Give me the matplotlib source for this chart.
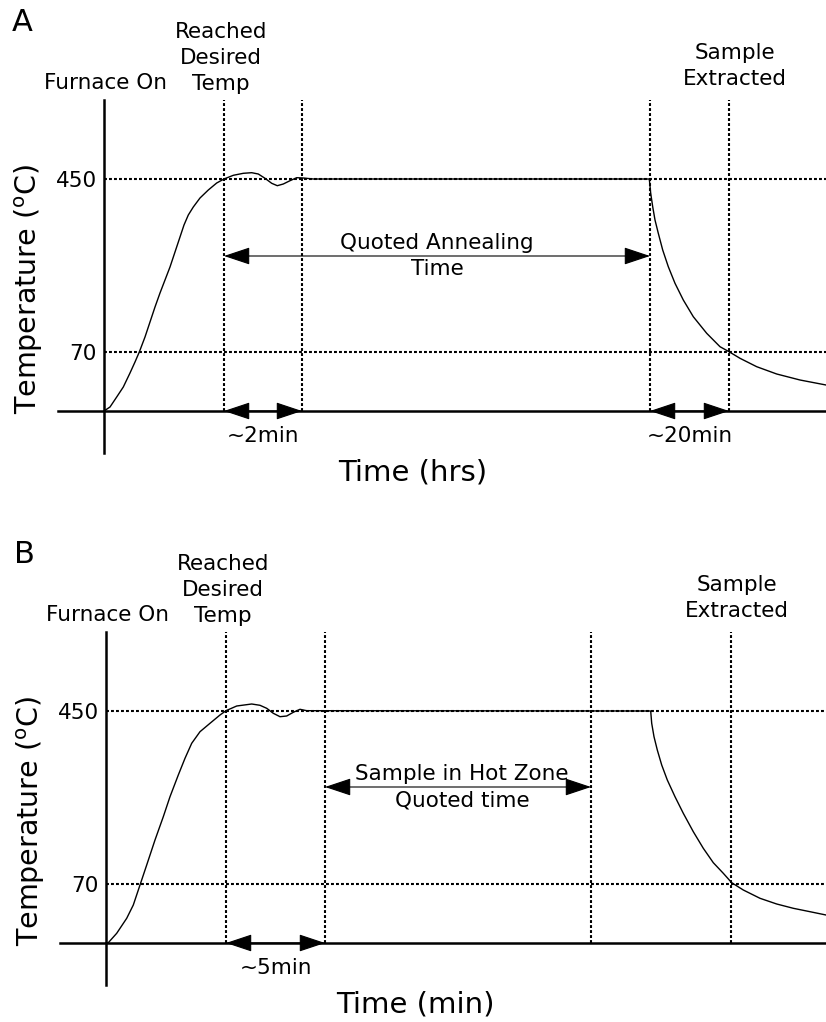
import matplotlib.pyplot as plt

# schematic units: x = time from furnace-on, y = height above room temperature
T_LOW = 59     # height of the 70 C level
T_HOLD = 232   # height of the 450 C level
tick_pos = [T_LOW, T_HOLD]
tick_labels = ["70", "450"]

# panel A (anneal time in hours)
t_a = [0, 6, 12.7, 19.3, 26, 31, 35.3, 41, 46, 51, 56, 61, 66, 71, 76, 80, 84.3, 89.3,
       96, 104.3, 112.7, 120, 129.3, 139.3, 147.7, 154.3, 161, 167.7, 173.3, 179.3, 186,
       192.7, 199.3, 209.3, 545.3, 546.7, 548.7, 551, 554.3, 558.7, 564.3, 571, 579.3,
       589.3, 602.7, 616, 625, 636, 652.7, 672.7, 696, 722]
temp_a = [0, 4, 14, 24, 38, 49, 59, 74, 89, 104, 118, 131, 144, 159, 174, 186, 196, 204,
          213, 221, 228, 232, 235.7, 237.7, 238.3, 237, 232.7, 227.7, 225.3, 227, 230.3,
          233.3, 233, 232, 232, 217.7, 204.3, 191, 177.7, 161, 144.3, 127.7, 111,
          94.3, 77.7, 64.3, 59.3, 52.7, 44.3, 37, 31, 26]
marks_a = [120, 198, 546, 625]

# panel B (time in hot zone in minutes)
t_b = [0, 2.3, 10.7, 20.7, 27.3, 34, 40.7, 49, 57.3, 64, 72.3, 79, 85.7, 94, 104, 114,
       120, 130.7, 145.7, 154, 160.7, 167.3, 174, 180.7, 187.3, 194, 200.7, 544.7, 545.7,
       548, 551.3, 555.7, 561.3, 569, 577.3, 587.3, 597.3, 607.3, 617.3, 625.7, 637.3,
       654, 670.7, 687.3, 704, 720]
temp_b = [0, 0.3, 9.7, 24.7, 38, 58, 78, 103, 126.3, 146.3, 168, 184.7, 199.7, 211.3,
          219.7, 228, 232.3, 237, 239, 237.7, 234.7, 229.7, 226.3, 227, 230.7, 233.7,
          232.3, 232, 219.7, 206.3, 193, 178, 163, 146.3, 129.7, 111.3, 94.7, 80.3,
          69.7, 60.3, 53, 44.7, 39, 34.7, 31.3, 28]
marks_b = [120, 219, 485, 625]

TXT = 15.5
BIG = 20.5
LS = 1.38


def draw_panel(ax, letter, t, temp, marks, x_right, span_arrow, span_text,
               gap_arrow, gap_text, sample_x, xlabel):
    dot = dict(color="black", lw=1.5, linestyle=(0, (1.4, 1.0)), clip_on=False)
    for m in marks:
        ax.plot([m, m], [0, 311], **dot)
    for lvl in tick_pos:
        ax.plot([0, x_right], [lvl, lvl], **dot)

    # axes cross
    ax.plot([0, 0], [-42, 311], color="black", lw=1.8, clip_on=False)
    ax.plot([-46, x_right], [0, 0], color="black", lw=1.8, clip_on=False)

    ax.plot(t, temp, color="black", lw=1.0, clip_on=False)

    arrow = dict(arrowstyle="<|-|>,head_length=1.65,head_width=0.55", mutation_scale=10,
                 lw=0.8, color="black", shrinkA=0, shrinkB=0)
    x0, x1, y_mid = span_arrow
    ax.annotate("", xy=(x1, y_mid), xytext=(x0, y_mid), arrowprops=arrow)
    ax.text(0.5 * (x0 + x1) + span_text[0], y_mid, span_text[1],
            ha="center", va="center", fontsize=TXT, linespacing=LS)
    for (g0, g1), lab in zip(gap_arrow, gap_text):
        ax.annotate("", xy=(g1, 0), xytext=(g0, 0), arrowprops=arrow)
        ax.text(0.5 * (g0 + g1), -25, lab, ha="center", va="center", fontsize=TXT)

    for p, lab in zip(tick_pos, tick_labels):
        ax.text(-7, p - 2, lab, ha="right", va="center", fontsize=TXT)

    ax.text(1, 328, "Furnace On", ha="center", va="center", fontsize=TXT)
    ax.text(117, 353, "Reached\nDesired\nTemp", ha="center", va="center", fontsize=TXT,
            linespacing=LS)
    ax.text(sample_x, 345, "Sample\nExtracted", ha="center", va="center", fontsize=TXT,
            linespacing=LS)
    ax.text(-82, 389, letter, ha="center", va="center", fontsize=22)
    ax.text(-75, 122, "Temperature ($^{\\mathrm{o}}$C)", rotation=90, ha="center",
            va="center", fontsize=BIG)
    ax.text(309, -61, xlabel, ha="center", va="center", fontsize=BIG + 0.5)


fig = plt.figure(figsize=(8.26, 10.22), dpi=100)
ax_a = fig.add_axes([0, 0.5, 1, 0.5])
ax_a.set_xlim(-104, 722)
ax_a.set_ylim(-100, 411)
ax_a.axis("off")
draw_panel(ax_a, "A", t_a, temp_a, marks_a, 722, (120, 546, 155),
           (0, "Quoted Annealing\nTime"),
           [(120, 198), (546, 625)], ["~2min", "~20min"], 631, "Time (hrs)")

ax_b = fig.add_axes([0, 0, 1, 0.5])
ax_b.set_xlim(-106, 720)
ax_b.set_ylim(-79, 432)
ax_b.axis("off")
draw_panel(ax_b, "B", t_b, temp_b, marks_b, 720, (219, 485, 156),
           (4, "Sample in Hot Zone\nQuoted time"),
           [(120, 219)], ["~5min"], 631, "Time (min)")

fig.savefig("out.png", dpi=100)
